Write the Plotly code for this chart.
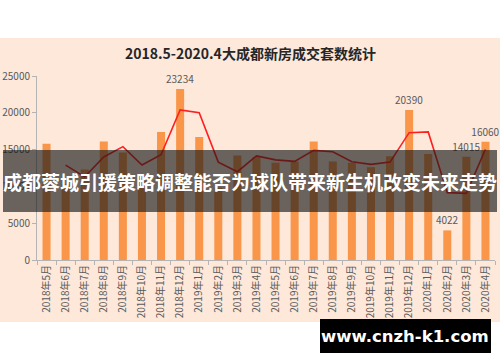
import plotly.graph_objects as go

months = ["2018年5月", "2018年6月", "2018年7月", "2018年8月", "2018年9月", "2018年10月",
          "2018年11月", "2018年12月", "2019年1月", "2019年2月", "2019年3月", "2019年4月",
          "2019年5月", "2019年6月", "2019年7月", "2019年8月", "2019年9月", "2019年10月",
          "2019年11月", "2019年12月", "2020年1月", "2020年2月", "2020年3月", "2020年4月"]
sales = [15800, 10300, 12300, 16100, 14600, 11200, 17400, 23234, 16700, 9800, 14200, 14000,
         13200, 13400, 16100, 13400, 13200, 12600, 14100, 20390, 14400, 4022, 14015, 16060]
trend = [None, 12900, 11300, 14000, 15400, 12900, 14300, 20400, 20000, 13300, 12000, 14150,
         13600, 13400, 14900, 14700, 13350, 13000, 13300, 17300, 17400, 9150, 9050, 15050]
shown_labels = ["", "", "", "", "", "", "", "23234", "", "", "", "",
                "", "", "", "", "", "", "", "20390", "", "4022", "14015", "16060"]
y_ticks = [0, 5000, 10000, 15000, 20000, 25000]

title_text = "2018.5-2020.4大成都新房成交套数统计"
banner_text = "成都蓉城引援策略调整能否为球队带来新生机改变未来走势"
watermark_text = "www.cnzh-k1.com"

CJK = "Noto Sans CJK SC"
W, H = 500, 362
ML, MR, MT, MB = 37, 5, 76, 102
plot_h = H - MT - MB
plot_w = W - ML - MR


def py(pix):
    return (H - MB - pix) / plot_h


def px(pix):
    return (pix - ML) / plot_w


fig = go.Figure()
fig.add_trace(go.Bar(
    x=months, y=sales, marker=dict(color="#f9964a", line=dict(width=0)),
    text=shown_labels, textposition="outside", cliponaxis=False,
    constraintext="none",
    textfont=dict(family=CJK, size=10, color="#595959"),
    hoverinfo="skip",
))
fig.add_trace(go.Scatter(
    x=months, y=trend, mode="lines",
    line=dict(color="#ff1f1f", width=1.6), hoverinfo="skip",
))

fig.update_layout(
    width=W, height=H,
    margin=dict(l=ML, r=MR, t=MT, b=MB, autoexpand=False),
    paper_bgcolor="white", plot_bgcolor="rgba(0,0,0,0)",
    showlegend=False, bargap=0.58,
    font=dict(family=CJK, color="#595959"),
    xaxis=dict(
        tickangle=-90, tickfont=dict(family=CJK, size=10, color="#595959"),
        showline=True, linecolor="#b4b4b4", linewidth=1,
        ticks="outside", tickson="boundaries", ticklen=4, tickcolor="#b4b4b4",
        showgrid=False, zeroline=False, fixedrange=True, automargin=False,
    ),
    yaxis=dict(
        range=[0, 25000], tickvals=y_ticks, ticktext=[str(v) for v in y_ticks],
        tickfont=dict(family=CJK, size=10, color="#595959"),
        showline=True, linecolor="#b4b4b4", linewidth=1,
        ticks="outside", ticklen=4, tickcolor="#b4b4b4",
        showgrid=False, zeroline=False, fixedrange=True, automargin=False,
    ),
)

fig.add_shape(type="rect", xref="paper", yref="paper", layer="below",
              x0=px(0), x1=px(500), y0=py(322), y1=py(38),
              fillcolor="#fde8da", line=dict(width=0))
fig.add_shape(type="rect", xref="paper", yref="paper", layer="above",
              x0=px(3), x1=px(497), y0=py(212), y1=py(150),
              fillcolor="rgba(22,22,22,0.64)", line=dict(width=0))
fig.add_shape(type="rect", xref="paper", yref="paper", layer="above",
              x0=px(320), x1=px(491), y0=py(353), y1=py(319),
              fillcolor="#000000", line=dict(width=0))

common = dict(xref="paper", yref="paper", showarrow=False,
              xanchor="center", yanchor="middle")
fig.add_annotation(text=title_text, x=px(250), y=py(53),
                   font=dict(family=CJK, size=14, color="#262626", weight="bold"), **common)
fig.add_annotation(text=banner_text, x=px(250), y=py(181),
                   font=dict(family=CJK, size=19, color="white", weight="bold"), **common)
fig.add_annotation(text=watermark_text, x=px(405), y=py(336),
                   font=dict(family="DejaVu Sans", size=16.5, color="white", weight="bold"), **common)

fig.write_html("out.html", config={"displayModeBar": False},
               post_script="document.body.style.margin='0';")
